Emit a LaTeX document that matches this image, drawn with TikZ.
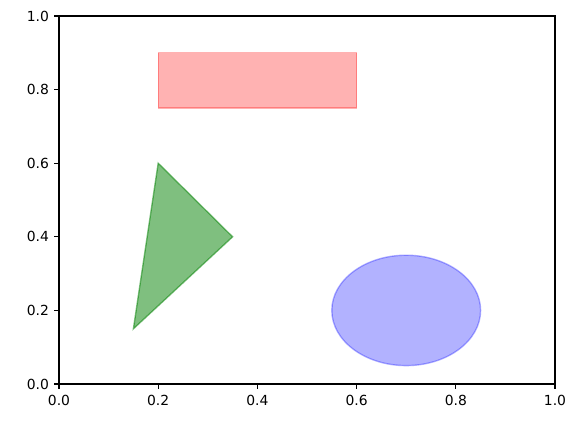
\documentclass[tikz,border=0pt]{standalone}
\usepackage{fontspec}
\setmainfont{DejaVu Sans}
\definecolor{mplred}{RGB}{255,0,0}
\definecolor{mplgreen}{RGB}{0,128,0}
\definecolor{mplblue}{RGB}{0,0,255}
\begin{document}
\begin{tikzpicture}[x=0.72pt,y=0.72pt,
  spine/.style={line width=0.8pt, line cap=rect},
  tickmark/.style={line width=0.8pt},
  ticklabel/.style={font=\fontsize{10}{12}\selectfont, inner sep=0pt},
  patch/.style={line width=1pt, opacity=#1}]
\useasboundingbox (0,0) rectangle (584,422);
\begin{scope}[shift={(59,38)}, x=357.12pt, y=264.96pt]
  % patches
  \filldraw[patch=0.3, draw=mplred, fill=mplred] (0.2,0.75) rectangle (0.6,0.9);
  \filldraw[patch=0.5, draw=mplgreen, fill=mplgreen] (0.15,0.15) -- (0.2,0.6) -- (0.35,0.4) -- cycle;
  \filldraw[patch=0.3, draw=mplblue, fill=mplblue] (0.7,0.2) ellipse [x radius=0.15, y radius=0.15];
  % axes
  \coordinate (ll) at (0,0);
  \coordinate (ur) at (1,1);
  \draw[spine] (ll) rectangle (ur);
  \foreach \t/\n in {0/0.0,0.2/0.2,0.4/0.4,0.6/0.6,0.8/0.8,1/1.0}{
    \draw[tickmark] (\t,0) -- ++(0,-3.5pt);
    \node[ticklabel, anchor=north, yshift=-8pt] (xt\n) at (\t,0) {\n};
    \draw[tickmark] (0,\t) -- ++(-3.5pt,0);
    \node[ticklabel, anchor=east, xshift=-7pt] (yt\n) at (0,\t) {\n};
  }
\end{scope}
\end{tikzpicture}
\end{document}
